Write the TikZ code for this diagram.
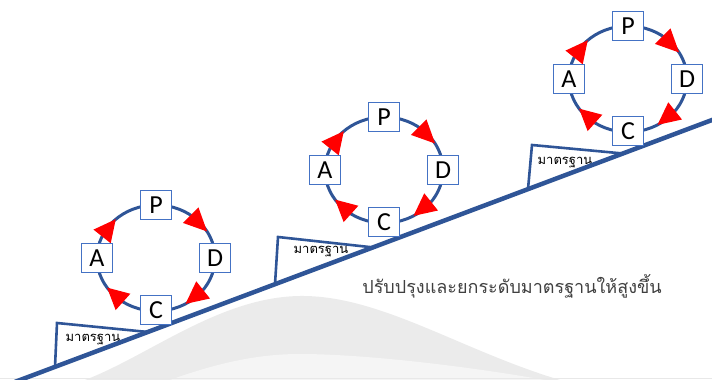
\documentclass[tikz,border=0pt]{standalone}
\usepackage{fontspec}
\setmainfont{Carlito}
\newfontfamily\thaifont[Script=Thai]{Loma}
\usetikzlibrary{calc}
\definecolor{lineblue}{RGB}{47,85,151}
\definecolor{boxblue}{RGB}{68,114,196}
\definecolor{txtgray}{RGB}{64,64,64}
\definecolor{wmouter}{RGB}{235,235,235}
\definecolor{wminner}{RGB}{245,245,245}
\begin{document}
\begin{tikzpicture}[x=1pt,y=1pt,
  letterbox/.style={draw=boxblue, line width=0.8pt, fill=white, minimum width=31pt, minimum height=29pt, inner sep=0pt, font=\fontsize{26}{26}\selectfont, text height=17pt, text depth=0pt},
  ring/.style={draw=lineblue, line width=3pt},
  wedge/.style={draw=lineblue, line width=2.6pt, line join=miter},
  redtip/.style={fill=red},
  stdlabel/.style={font=\thaifont\fontsize{13}{13}\selectfont, text=black, inner sep=0pt}
]
\useasboundingbox (0,0) rectangle (712,380);
% faint watermark
\fill[wmouter] (85,0) .. controls (150,25) and (220,83) .. (300,84)
  .. controls (380,85) and (460,30) .. (560,0) -- cycle;
\fill[wminner] (170,0) .. controls (220,18) and (260,26) .. (300,26)
  .. controls (360,26) and (460,15) .. (545,0) -- cycle;
\draw[gray!18, line width=0.8pt] (0,1.5) -- (712,1.5);
% wedges (standards)
\draw[wedge] (57,57) -- (148,48) -- (55,13) -- cycle;
\draw[wedge] (278,143) -- (373,132.6) -- (275,95.8) -- cycle;
\draw[wedge] (532,235) -- (623,226.5) -- (528,190.9) -- cycle;
\node[stdlabel] (w1) at (93,40) {มาตรฐาน};
\node[stdlabel] (w2) at (321,128) {มาตรฐาน};
\node[stdlabel] (w3) at (565,217) {มาตรฐาน};
% slope
\coordinate (s0) at (15,-1.9);
\coordinate (s1) at (716,261.5);
\draw[lineblue, line width=4.5pt] (s0) -- (s1);
% PDCA cycles
\foreach \cx/\cy/\i in {156/122/1, 384/210/2, 628/301/3}{
  \draw[ring] (\cx,\cy) ellipse [x radius=59pt, y radius=53pt];
  \foreach \ta/\tb in {54/30, -37/-60, -124/-146, 156/133}{
    \coordinate (bm) at ($(\cx,\cy)+(\ta:59pt and 53pt)$);
    \coordinate (tp) at ($(\cx,\cy)+(\tb:59pt and 53pt)$);
    \fill[redtip] (tp) -- ($(bm)!11pt!90:(tp)$) -- ($(bm)!11pt!-90:(tp)$) -- cycle;
  }
  \node[letterbox] (P\i) at (\cx,\cy+53) {P};
  \node[letterbox] (D\i) at (\cx+59,\cy) {D};
  \node[letterbox] (C\i) at (\cx,\cy-52) {C};
  \node[letterbox] (A\i) at (\cx-59,\cy) {A};
}
\node[font=\thaifont\fontsize{18}{18}\selectfont, text=txtgray, anchor=base, inner sep=0pt] (slogan) at (512,86) {ปรับปรุงและยกระดับมาตรฐานให้สูงขึ้น};
\end{tikzpicture}
\end{document}
